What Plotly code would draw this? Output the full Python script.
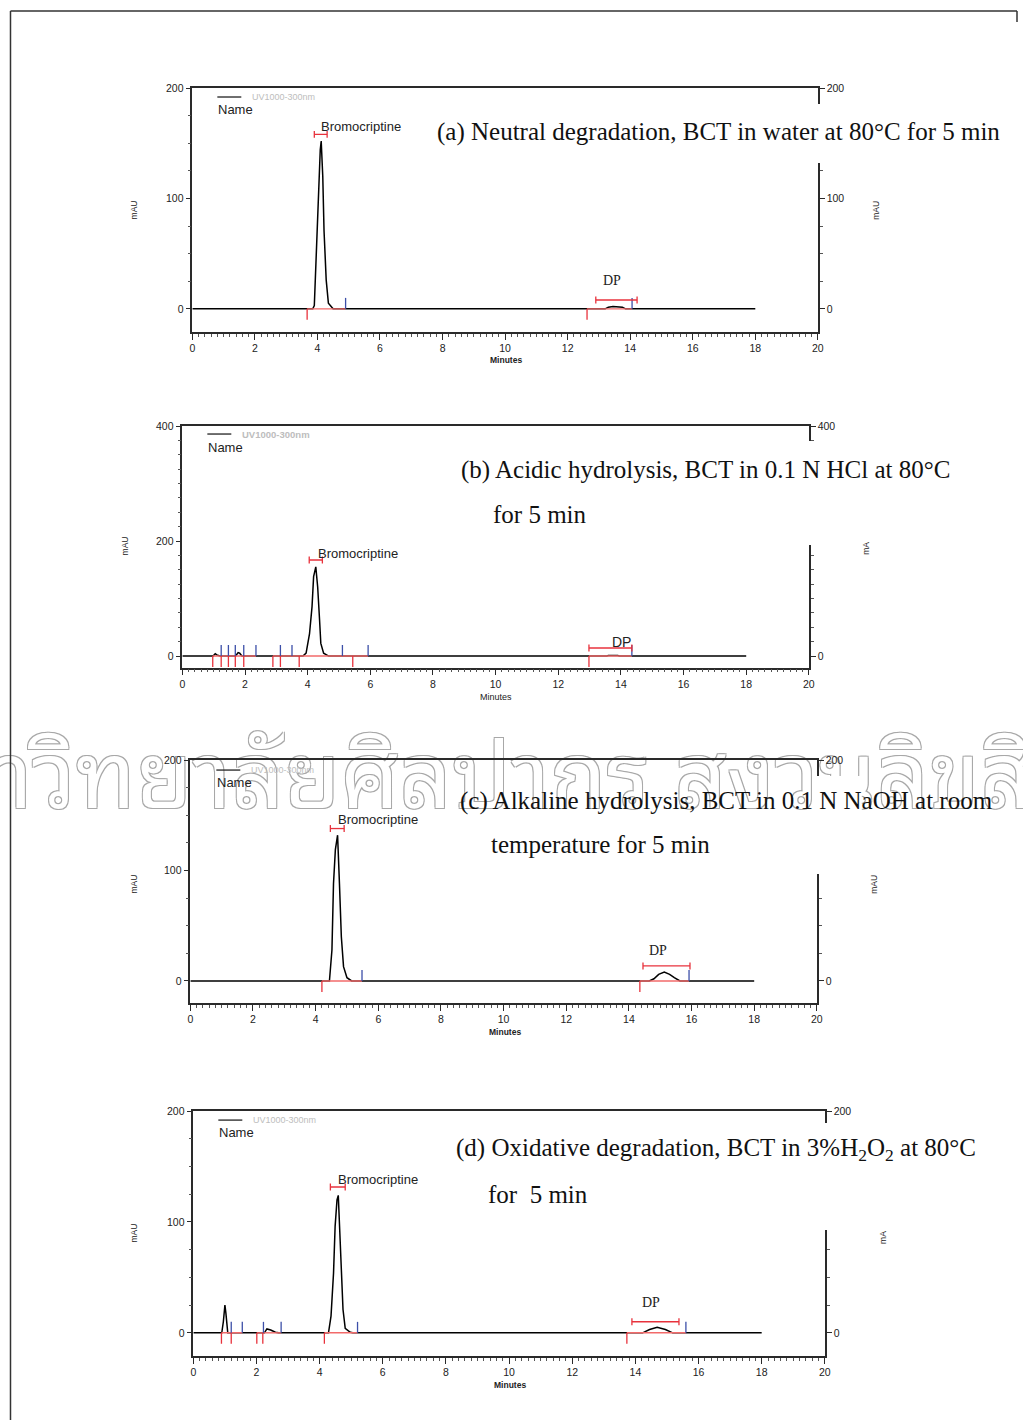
import plotly.graph_objects as go

W, H = 1023, 1420

# ---------------- data ----------------
# (a) Neutral degradation
a_time = [0, 3.85, 3.9, 3.93, 3.98, 4.03, 4.09, 4.12, 4.17, 4.21, 4.28, 4.35, 4.5,
          13.2, 13.3, 13.45, 13.6, 13.75, 13.85, 18]
a_mau = [0, 0, 3, 26, 56, 108, 144, 152, 120, 71, 26, 5, 0,
         0, 1.5, 2, 2, 1.5, 0, 0]
a_red_marks = [3.67, 12.62]
a_blue_marks = [4.9, 14.06]
a_baselines = [[3.67, 4.9], [12.62, 14.06]]
a_brackets = [[3.9, 4.31, 158], [12.9, 14.22, 8]]

# (b) Acidic hydrolysis
b_time = [0, 0.98, 1.05, 1.1, 1.2, 1.7, 1.78, 1.83, 1.9, 3.85, 3.95, 4.06, 4.14, 4.19,
          4.26, 4.32, 4.38, 4.42, 4.51, 4.67, 13.55, 13.6, 13.9, 13.95, 18]
b_mau = [0, 0, 4, 2, 0, 0, 6, 5, 0, 0, 5, 39, 86, 138,
         155, 120, 63, 22, 5, 0, 0, 1, 1, 0, 0]
b_red_marks = [0.97, 1.24, 1.47, 1.69, 1.96, 2.89, 3.13, 3.73, 5.44, 12.98]
b_blue_marks = [1.24, 1.47, 1.69, 1.96, 2.35, 3.13, 3.5, 5.11, 5.93, 14.35]
b_baselines = [[0.97, 2.35], [2.89, 5.93], [12.98, 14.35]]
b_brackets = [[4.05, 4.47, 167], [12.98, 14.35, 14]]

# (c) Alkaline hydrolysis
c_time = [0, 4.44, 4.52, 4.57, 4.63, 4.70, 4.76, 4.82, 4.89, 5.0, 5.15,
          14.65, 14.8, 14.95, 15.13, 15.3, 15.45, 15.63, 18]
c_mau = [0, 0, 28, 88, 119, 132, 88, 40, 13, 3, 0,
         0, 2, 6, 8, 6, 3, 0, 0]
c_red_marks = [4.2, 14.35]
c_blue_marks = [5.48, 15.92]
c_baselines = [[4.2, 5.48], [14.35, 15.92]]
c_brackets = [[4.47, 4.91, 138], [14.45, 15.95, 13.6]]

# (d) Oxidative degradation
d_time = [0, 0.9, 0.95, 1.0, 1.03, 1.06, 1.09, 2.25, 2.33, 2.45, 2.6, 2.7,
          4.28, 4.36, 4.44, 4.49, 4.55, 4.59, 4.63, 4.67, 4.74, 4.81, 4.97, 5.05,
          14.23, 14.45, 14.69, 14.95, 15.18, 18]
d_mau = [0, 0, 10, 25, 18, 8, 0, 0, 3.5, 2.5, 0.5, 0,
         0, 15, 54, 96, 120, 124, 96, 54, 21, 4, 0.5, 0,
         0, 3, 5, 3, 0, 0]
d_red_marks = [0.89, 1.2, 2.01, 2.2, 4.15, 13.73]
d_blue_marks = [1.2, 1.55, 2.22, 2.78, 5.2, 15.6]
d_baselines = [[0.89, 1.55], [2.01, 2.78], [4.15, 5.2], [13.73, 15.6]]
d_brackets = [[4.34, 4.81, 131.5], [13.89, 15.38, 10]]

x_ticks = [0, 2, 4, 6, 8, 10, 12, 14, 16, 18, 20]
peak_names = ["Bromocriptine", "DP"]
titles = [
    ["(a) Neutral degradation, BCT in water at 80°C for 5 min"],
    ["(b) Acidic hydrolysis, BCT in 0.1 N HCl at 80°C", "for 5 min"],
    ["(c) Alkaline hydrolysis, BCT in 0.1 N NaOH at room", "temperature for 5 min"],
    ["(d) Oxidative degradation, BCT in 3%H<sub>2</sub>O<sub>2</sub> at 80°C", "for\u00a0 5 min"],
]
detector = "UV1000-300nm"
watermark = "มหาวิทยาลัยศิลปากร สงวนลิขสิทธิ์"

# ---------------- layout geometry (pixels of the reference) ----------------
panels = [
    dict(t=a_time, v=a_mau, red=a_red_marks, blue=a_blue_marks, base=a_baselines, br=a_brackets,
         L=192, R=818, T=88, B=332, ymin=-21, ymax=200, ytv=[0, 100, 200],
         gap=(104, 163), lbl=[(4.06, 165), (13.42, 26)], dpserif=True,
         title_xy=[(435, 132)], leg=(217, 97), name_y=109, mins=(506, 360),
         mau_l=(134, 210), mau_r=(876, 210, "mAU")),
    dict(t=b_time, v=b_mau, red=b_red_marks, blue=b_blue_marks, base=b_baselines, br=b_brackets,
         L=182, R=809, T=426, B=667.5, ymin=-20, ymax=400, ytv=[0, 200, 400],
         gap=(441, 545), lbl=[(4.27, 179), (14.03, 24)], dpserif=False,
         title_xy=[(459, 470), (491, 514)], leg=(207, 434), name_y=447, mins=(496, 697),
         mau_l=(125, 546), mau_r=(866, 548, "mA")),
    dict(t=c_time, v=c_mau, red=c_red_marks, blue=c_blue_marks, base=c_baselines, br=c_brackets,
         L=190, R=817, T=760, B=1003, ymin=-20, ymax=200, ytv=[0, 100, 200],
         gap=(776, 874), lbl=[(4.66, 146), (14.93, 28)], dpserif=True,
         title_xy=[(458, 801), (489, 844)], leg=(216, 770), name_y=782, mins=(505, 1032),
         mau_l=(134, 884), mau_r=(874, 884, "mAU")),
    dict(t=d_time, v=d_mau, red=d_red_marks, blue=d_blue_marks, base=d_baselines, br=d_brackets,
         L=193, R=825, T=1111, B=1356, ymin=-21, ymax=200, ytv=[0, 100, 200],
         gap=(1123, 1230), lbl=[(4.53, 138), (14.5, 27)], dpserif=True,
         title_xy=[(454, 1149), (486, 1194)], leg=(218, 1120), name_y=1132, mins=(510, 1385),
         mau_l=(134, 1233), mau_r=(883, 1237, "mA")),
]

# calibration between reference pixels and figure pixels
OX, SX, OY, SY = 2.5, 0.992, 6.0, 0.9957


def fx(xp):
    return (xp - OX) / SX


def fy(yp):
    return (yp - OY) / SY


def px(xp):
    return min(max(fx(xp) / W, 0), 1)


def py(yp):
    return min(max(1 - fy(yp) / H, 0), 1)


AX = "#2a2a2a"
RED = "#e8323c"
PINK = "#f26a6a"
BLUE = "#3c4fa8"
SANS = "Liberation Sans, Arial, sans-serif"
SERIF = "Liberation Serif, Times New Roman, serif"

fig = go.Figure()
layout = dict(width=W, height=H, margin=dict(l=0, r=0, t=0, b=0), autosize=False,
              paper_bgcolor="white", plot_bgcolor="rgba(0,0,0,0)", showlegend=False)
annotations = []
shapes = []

# watermark (drawn below everything)
shapes.append(dict(type="rect", xref="paper", yref="paper", layer="below",
                   x0=-0.2, x1=1.2, y0=py(848), y1=py(730),
                   line=dict(width=0), fillcolor="rgba(0,0,0,0)",
                   label=dict(text=watermark, textposition="middle center",
                              font=dict(size=92, color="white",
                                        family="Noto Sans Thai Looped, Noto Sans Thai, Loma, Garuda, DejaVu Sans, sans-serif",
                                        shadow="-1px -1px 0 #a8a8a8, 1px -1px 0 #a8a8a8, -1px 1px 0 #a8a8a8, 1px 1px 0 #a8a8a8"))))

for i, p in enumerate(panels):
    n = "" if i == 0 else str(i + 1)
    xid, yid, rid = "x" + n, "y" + n, "y" + str(i + 5)
    ppu = (fy(p["B"]) - fy(p["T"])) / (p["ymax"] - p["ymin"])  # pixels per mAU
    mark_len = 11 / ppu
    cap = 3.5 / ppu
    tickfont = dict(family=SANS, size=10.5, color="#222")
    layout["xaxis" + n] = dict(domain=[px(p["L"]), px(p["R"])], anchor=yid, range=[0, 20],
                              tickmode="array", tickvals=x_ticks, ticktext=[str(v) for v in x_ticks],
                              ticks="outside", ticklen=6, tickwidth=1, tickcolor=AX,
                              showline=True, linecolor=AX, linewidth=1.5, mirror=True,
                              showgrid=False, zeroline=False, tickfont=tickfont,
                              minor=dict(dtick=0.2, tick0=0, ticks="outside", ticklen=3, tickcolor="#555",
                                         showgrid=False),
                              fixedrange=True)
    yax = dict(domain=[py(p["B"]), py(p["T"])], anchor=xid, range=[p["ymin"], p["ymax"]],
               tickmode="array", tickvals=p["ytv"], ticktext=[str(v) for v in p["ytv"]],
               ticks="outside", ticklen=5, tickwidth=1, tickcolor=AX,
               showline=True, linecolor=AX, linewidth=1.5, showgrid=False, zeroline=False,
               tickfont=tickfont,
               minor=dict(dtick=25, tick0=0, ticks="outside", ticklen=3, tickcolor="#555", showgrid=False),
               fixedrange=True)
    layout["yaxis" + n] = yax
    ryax = dict(yax)
    ryax.pop("domain")
    ryax.update(overlaying=yid, side="right", anchor=xid)
    layout["yaxis" + str(i + 5)] = ryax

    # chromatogram trace
    fig.add_trace(go.Scatter(x=p["t"], y=p["v"], xaxis=xid, yaxis=yid, mode="lines",
                             line=dict(color="black", width=1.5), hoverinfo="skip"))
    # invisible trace on the right axis
    fig.add_trace(go.Scatter(x=[0], y=[0], xaxis=xid, yaxis=rid, mode="markers",
                             marker=dict(opacity=0), hoverinfo="skip"))
    # integration baselines
    bx, by = [], []
    for s, e in p["base"]:
        bx += [s, e, None]
        by += [0, 0, None]
    fig.add_trace(go.Scatter(x=bx, y=by, xaxis=xid, yaxis=yid, mode="lines",
                             line=dict(color=PINK, width=1.4), hoverinfo="skip"))
    # red start marks (down)
    rx, ry = [], []
    for t in p["red"]:
        rx += [t, t, None]
        ry += [0, -mark_len, None]
    fig.add_trace(go.Scatter(x=rx, y=ry, xaxis=xid, yaxis=yid, mode="lines",
                             line=dict(color=RED, width=1.3), hoverinfo="skip"))
    # blue end marks (up)
    ux, uy = [], []
    for t in p["blue"]:
        ux += [t, t, None]
        uy += [0, mark_len, None]
    fig.add_trace(go.Scatter(x=ux, y=uy, xaxis=xid, yaxis=yid, mode="lines",
                             line=dict(color=BLUE, width=1.3), hoverinfo="skip"))
    # peak brackets
    kx, ky = [], []
    for s, e, lvl in p["br"]:
        kx += [s, e, None, s, s, None, e, e, None]
        ky += [lvl, lvl, None, lvl - cap, lvl + cap, None, lvl - cap, lvl + cap, None]
    fig.add_trace(go.Scatter(x=kx, y=ky, xaxis=xid, yaxis=yid, mode="lines",
                             line=dict(color=RED, width=1.3), hoverinfo="skip"))

    # peak labels
    (bxl, byl), (dxl, dyl) = p["lbl"]
    annotations.append(dict(x=bxl, y=byl, xref=xid, yref=yid, text=peak_names[0], showarrow=False,
                            xanchor="left", yanchor="middle", font=dict(family=SANS, size=13, color="#222")))
    annotations.append(dict(x=dxl, y=dyl, xref=xid, yref=yid, text=peak_names[1], showarrow=False,
                            xanchor="center", yanchor="middle",
                            font=dict(family=SERIF if p["dpserif"] else SANS, size=14, color="#222")))

    # right-axis gap (white patch)
    shapes.append(dict(type="rect", xref="paper", yref="paper", layer="above",
                       x0=px(p["R"] - 4), x1=px(p["R"] + 45), y0=py(p["gap"][1]), y1=py(p["gap"][0]),
                       line=dict(width=0), fillcolor="white"))

    # legend: line + detector + Name
    lx, ly = p["leg"]
    shapes.append(dict(type="line", xref="paper", yref="paper", layer="above",
                       x0=px(lx), x1=px(lx + 24), y0=py(ly), y1=py(ly), line=dict(color="#222", width=1.3)))
    annotations.append(dict(x=px(lx + 33), y=py(ly), xref="paper", yref="paper", text=detector,
                            showarrow=False, xanchor="left", yanchor="middle",
                            font=dict(family=SANS, size=9.5 if i == 1 else 9, color="#bdbdbd",
                                      weight="bold" if i == 1 else "normal")))
    annotations.append(dict(x=px(lx - 1), y=py(p["name_y"]), xref="paper", yref="paper", text="Name",
                            showarrow=False, xanchor="left", yanchor="middle",
                            font=dict(family=SANS, size=13, color="#222")))
    # axis titles
    annotations.append(dict(x=px(p["mins"][0]), y=py(p["mins"][1]), xref="paper", yref="paper",
                            text="Minutes", showarrow=False, xanchor="center", yanchor="middle",
                            font=dict(family=SANS, size=8.5 if i != 1 else 9, color="#222",
                                      weight="bold" if i != 1 else "normal")))
    annotations.append(dict(x=px(p["mau_l"][0]), y=py(p["mau_l"][1]), xref="paper", yref="paper",
                            text="mAU", showarrow=False, textangle=-90, xanchor="center", yanchor="middle",
                            font=dict(family=SANS, size=8.5, color="#222")))
    annotations.append(dict(x=px(p["mau_r"][0]), y=py(p["mau_r"][1]), xref="paper", yref="paper",
                            text=p["mau_r"][2], showarrow=False, textangle=-90, xanchor="center",
                            yanchor="middle", font=dict(family=SANS, size=8.5, color="#222")))
    # panel titles
    for line_text, (tx, ty) in zip(titles[i], p["title_xy"]):
        annotations.append(dict(x=px(tx), y=py(ty), xref="paper", yref="paper", text=line_text,
                                showarrow=False, xanchor="left", yanchor="middle",
                                font=dict(family=SERIF, size=25, color="#111")))

# page frame
shapes.append(dict(type="line", xref="paper", yref="paper", x0=px(10), x1=px(10), y0=py(11), y1=0,
                   line=dict(color="#333", width=1.5)))
shapes.append(dict(type="line", xref="paper", yref="paper", x0=px(10), x1=1, y0=py(11), y1=py(11),
                   line=dict(color="#333", width=1.5)))
shapes.append(dict(type="line", xref="paper", yref="paper", x0=px(1018), x1=px(1018), y0=py(11), y1=py(22),
                   line=dict(color="#333", width=1.5)))

layout["annotations"] = annotations
layout["shapes"] = shapes
fig.update_layout(**layout)
fig.write_html("out.html")
